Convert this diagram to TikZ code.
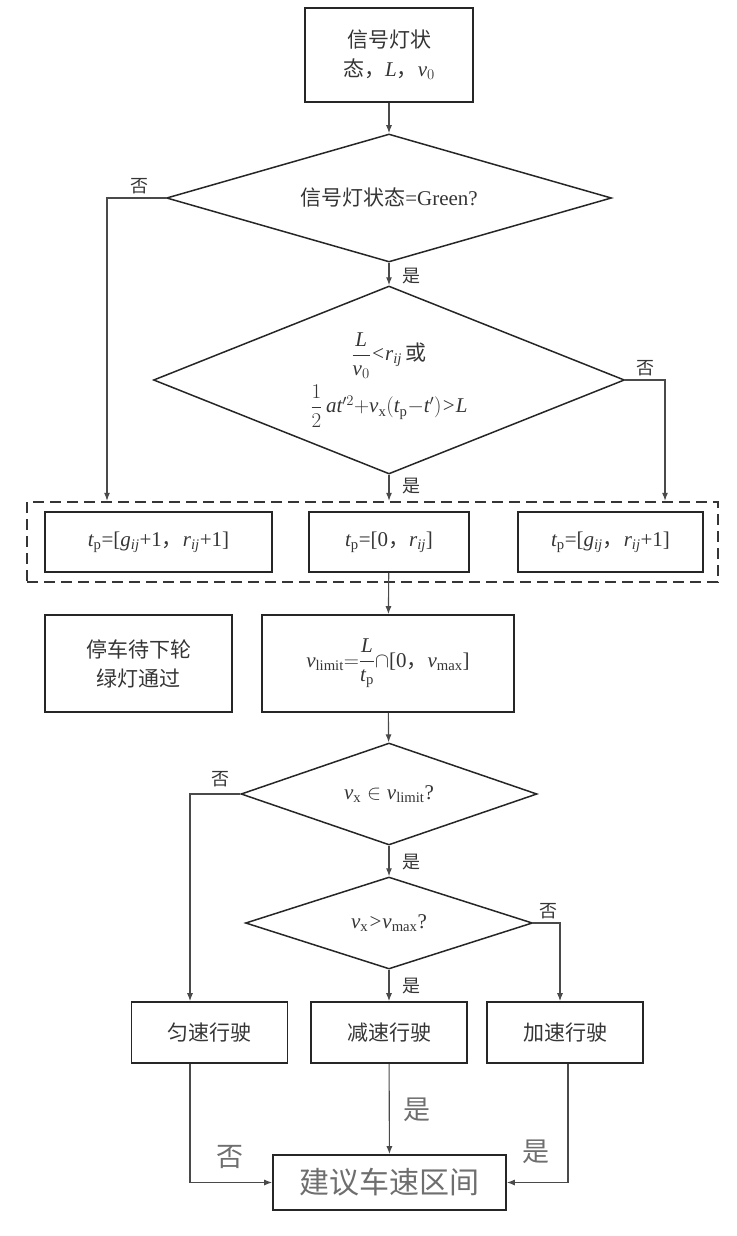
\RequirePackage{fix-cm}
\documentclass[tikz,border=0pt]{standalone}
\usepackage{amsmath}
\usepackage{fontspec}
\setmainfont{Liberation Serif}
\newfontfamily\cjk{Noto Sans CJK SC}
\newfontfamily\mathlet{Liberation Serif}[NFSSFamily=libserif]
\DeclareSymbolFont{letters}{TU}{libserif}{m}{it}
\usetikzlibrary{shapes.geometric,arrows.meta,calc,positioning}
\definecolor{inkgray}{HTML}{353535}
\definecolor{linegray}{HTML}{4A4A4A}
\definecolor{softgray}{HTML}{6E6E6E}
\tikzset{
  box/.style 2 args={draw=black!85, line width=1.6pt, rectangle, inner sep=0pt,
    minimum width=#1, minimum height=#2, align=center, text=inkgray},
  decision/.style 2 args={diamond, draw=black!85, line width=1.5pt, inner sep=0pt,
    aspect=3, minimum width=#1, minimum height=#2, align=center, text=inkgray},
  frame/.style={draw=inkgray, line width=2.4pt, dash pattern=on 11pt off 6pt,
    inner sep=0pt, minimum width=691, minimum height=80},
  arr/.style={-{Latex[length=8pt,width=6pt]}, line width=1.1pt, draw=linegray},
  lab/.style={font=\cjk\fontsize{18}{20}\selectfont, text=inkgray, inner sep=0pt},
  biglab/.style={font=\cjk\fontsize{27}{30}\selectfont, text=softgray, inner sep=0pt}
}

\begin{document}
\begin{tikzpicture}[x=1pt, y=-1pt, font=\fontsize{21}{29}\selectfont]
  \useasboundingbox (0,0) rectangle (736,1236);
  % input and signal checks
  \node[box={168}{94}] (input) at (389,55) {{\cjk 信号灯状}\\{\cjk 态，}$L${\cjk ，}$v_0$};
  \node[decision={445}{128}] (green) at (389,198) {{\cjk 信号灯状态}=Green?};
  \node[decision={471}{188}, aspect=2.5] (cond) at (389,380)
    {$\dfrac{L}{v_0}{<}r_{ij}$\,{\cjk 或}\\[6pt]
     $\dfrac{1}{2}\,at'^2{+}v_\mathrm{x}(t_\mathrm{p}{-}t'){>}L$};
  % passing windows
  \node[frame] (win) at (372.5,542) {};
  \node[box={227}{60}] (tpA) at (158.5,542) {$t_\mathrm{p}$=[$g_{ij}$+1{\cjk ，}$r_{ij}$+1]};
  \node[box={160}{60}] (tpB) at (389,542) {$t_\mathrm{p}$=[0{\cjk ，}$r_{ij}$]};
  \node[box={185}{60}] (tpC) at (610.5,542) {$t_\mathrm{p}$=[$g_{ij}${\cjk ，}$r_{ij}$+1]};
  \node[box={187}{97}] (wait) at (138.5,663.5) {{\cjk 停车待下轮}\\{\cjk 绿灯通过}};
  \node[box={252}{97}] (vlim) at (388,663.5)
    {$v_\mathrm{limit}{=}\dfrac{L}{t_\mathrm{p}}{\cap}$[0{\cjk ，}$v_\mathrm{max}$]};
  % speed checks
  \node[decision={296}{102}] (inlim) at (389,794) {$v_\mathrm{x}\in v_\mathrm{limit}$?};
  \node[decision={287}{92}] (over) at (389,923) {$v_\mathrm{x}{>}v_\mathrm{max}$?};
  % driving modes
  \foreach \n/\x/\txt in {keep/209.5/匀速行驶, slow/389/减速行驶, fast/565/加速行驶}
    \node[box={156}{61}] (\n) at (\x,1032.5) {\cjk \txt};
  \node[box={233}{55}, font=\cjk\fontsize{30}{36}\selectfont, text=softgray] (advice)
    at (389.5,1182.5) {建议车速区间};

  % connectors
  \coordinate (noG) at (107,198);
  \coordinate (noC) at (665,380);
  \coordinate (noV) at (190,794);
  \coordinate (noO) at (560,923);
  \draw[arr] (input) -- (green);
  \draw[arr] (green) -- (cond);
  \draw[arr] (green.west) -- (noG) -- (noG |- win.north);
  \draw[arr] (cond.east) -- (noC) -- (noC |- win.north);
  \draw[arr] (cond.south) -- (cond.south |- win.north);
  \draw[arr] (tpB) -- (vlim);
  \draw[arr] (vlim) -- (inlim);
  \draw[arr] (inlim) -- (over);
  \draw[arr] (inlim.west) -- (noV) -- (noV |- keep.north);
  \draw[arr] (over.east) -- (noO) -- (noO |- fast.north);
  \draw[arr] (over) -- (slow);
  \draw[arr] (noV |- keep.south) |- (advice.west);
  \draw[arr] (slow) -- (advice);
  \draw[arr] ([xshift=3pt]fast.south) |- (advice.east);

  % branch labels
  \node[lab] (lG) at (139,186) {否};
  \node[lab] (lY1) at (411,276) {是};
  \node[lab] (lC) at (645,368) {否};
  \node[lab] (lY2) at (411,486) {是};
  \node[lab] (lV) at (220,779) {否};
  \node[lab] (lY3) at (411,862) {是};
  \node[lab] (lO) at (548,911) {否};
  \node[lab] (lY4) at (411,986) {是};
  \node[biglab] (lK) at (230,1157) {否};
  \node[biglab] (lS) at (417,1110) {是};
  \node[biglab] (lF) at (536,1152) {是};
\end{tikzpicture}
\end{document}
